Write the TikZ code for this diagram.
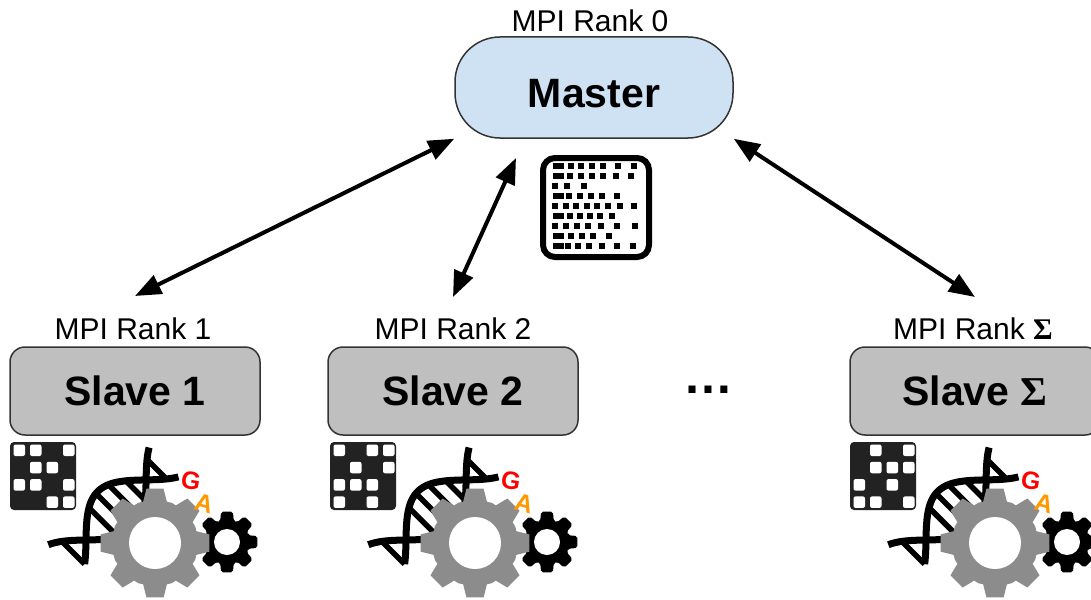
\documentclass[tikz,border=0pt]{standalone}
\usepackage{fontspec}
\setmainfont{Liberation Sans}
\newfontfamily\sigmafont{Liberation Serif}
\usetikzlibrary{arrows.meta}

\definecolor{masterfill}{HTML}{CFE2F3}
\definecolor{slavefill}{HTML}{BFBFBF}
\definecolor{boxline}{HTML}{333333}
\definecolor{geargray}{HTML}{8C8C8C}
\definecolor{iconbg}{HTML}{222222}
\definecolor{gared}{HTML}{FF0000}
\definecolor{gaorange}{HTML}{FF9900}

\tikzset{
  masterbox/.style={draw=boxline, line width=1.5pt, fill=masterfill,
    rounded corners=45pt, minimum width=278pt, minimum height=101pt,
    font=\bfseries\fontsize{41}{41}\selectfont, text height=41pt, text depth=0pt},
  slavebox/.style={draw=boxline, line width=1.5pt, fill=slavefill,
    rounded corners=15pt, minimum width=250pt, minimum height=88pt,
    font=\bfseries\fontsize{41}{41}\selectfont},
  ranklabel/.style={font=\fontsize{30}{30}\selectfont, anchor=base, inner sep=0pt},
  biarrow/.style={line width=4pt,
    {Triangle[length=26pt,width=20pt]}-{Triangle[length=26pt,width=20pt]}},
  strand/.style={line width=7pt, black},
  rung/.style={line width=5.5pt, black},
  galetter/.style={font=\bfseries\fontsize{25}{25}\selectfont, inner sep=0pt},
}

% one row of the data grid: dots at the given x positions
\newcommand\cellrow[2]{\foreach \cx in {#2}{\fill (\cx-3,#1-3) rectangle ++(6,6);}}
% the wider mark that opens a row
\newcommand\celldash[1]{\fill (553,#1-3) rectangle ++(11,6);}

% worker icon: data tile, DNA helix, two gears and the GA letters
% #1 x offset, #2 white cells (col/row), #3 name prefix
\newcommand\workicon[3]{%
\begin{scope}[shift={(#1,435)}]
  \fill[iconbg, rounded corners=4pt] (10,7) rectangle (76,75);
  \foreach \cc/\rr in {#2}{%
    \fill[white, rounded corners=2pt] ({13.5+16.5*\cc},{9.5+17.3*\rr}) rectangle ++(11.5,11.5);}
  % helix: half a turn between the two crossings
  \begin{scope}[shift={(86,105)}, rotate=45]
    \foreach \uu in {-18,25,40,55,70,100}{%
      \draw[rung] (\uu,{-26*sin(2.1176*\uu)}) -- (\uu,{26*sin(2.1176*\uu)});}
    \draw[strand] plot[domain=-30:110, samples=60, smooth] (\x,{26*sin(2.1176*\x)});
    \draw[strand] plot[domain=-18:110, samples=60, smooth] (\x,{-26*sin(2.1176*\x)});
  \end{scope}
  \begin{scope}[shift={(227,107)}]
    \fill[black, rounded corners=2pt] (-18:22)
      \foreach \a in {0,45,...,315}{ -- ({\a-18}:22) -- ({\a-11}:31) -- ({\a+11}:31) -- ({\a+18}:22)} -- cycle;
    \fill[white] (0,0) circle[radius=13];
  \end{scope}
  \begin{scope}[shift={(155,108)}]
    \fill[geargray] (-16:43)
      \foreach \a in {0,45,...,315}{ -- ({\a-16}:43) -- ({\a-9}:55) -- ({\a+9}:55) -- ({\a+16}:43) -- ({\a+22.5}:43.5)} -- cycle;
    \fill[white] (0,0) circle[radius=26];
  \end{scope}
  \node[galetter, text=gared, rotate=-10] (#3-g) at (191,46) {G};
  \node[galetter, text=gaorange, rotate=-15] (#3-a) at (204,69) {A};
\end{scope}}

\begin{document}
\begin{tikzpicture}[x=1pt, y=-1pt]
  \useasboundingbox (0,0) rectangle (1091,599);
  \clip (0,0) rectangle (1091,599);

  % master process
  \node[ranklabel] (rank0) at (590,32) {MPI Rank 0};
  \node[masterbox] (master) at (594,87.5) {Master};

  % data grid held by the master
  \draw[line width=6pt, rounded corners=12pt] (543,158) rectangle (649,257);
  \celldash{166}\cellrow{166}{571,581,592,603,618,634}
  \celldash{176}\cellrow{176}{570,581,592,603,616,631}
  \cellrow{186}{555,567,584}
  \celldash{196}\cellrow{196}{569,580,591,602,617}
  \cellrow{206}{555,566,576,587,597,608,620,634}
  \celldash{216}\cellrow{216}{570,580,590,600,612}
  \cellrow{226}{555,566,577,588,601,617,635}
  \celldash{236}\cellrow{236}{571,582,593,609}
  \celldash{246}\cellrow{246}{568,578,589,602,617,633}

  % workers
  \node[ranklabel] (rank1) at (133,339) {MPI Rank 1};
  \node[slavebox] (slave1) at (135,391) {Slave 1};
  \node[ranklabel] (rank2) at (453,339) {MPI Rank 2};
  \node[slavebox] (slave2) at (453,391) {Slave 2};
  \node[ranklabel] (rankS) at (973,339) {MPI Rank {\sigmafont\bfseries Σ}};
  \node[slavebox] (slaveS) at (975,391) {Slave {\sigmafont Σ}};
  \node[font=\bfseries\fontsize{50}{50}\selectfont, anchor=base, inner sep=0pt] (dots) at (708,393) {…};

  \workicon{0}{0/0,1/0,3/0,1/1,2/1,0/2,1/2,3/2,2/3,3/3}{w1}
  \workicon{320}{0/0,2/0,3/0,1/1,3/1,0/2,1/2,2/2,0/3,2/3}{w2}
  \workicon{840}{1/0,3/0,1/1,2/1,3/1,0/2,2/2,0/3,1/3,3/3}{wS}

  % message links
  \coordinate (e1) at (135,296);
  \coordinate (e2top) at (516,158);
  \coordinate (e2) at (453,297);
  \coordinate (e3) at (975,297);
  \draw[biarrow] (master.south west) -- (e1);
  \draw[biarrow] (e2top) -- (e2);
  \draw[biarrow] (master.south east) -- (e3);
\end{tikzpicture}
\end{document}
